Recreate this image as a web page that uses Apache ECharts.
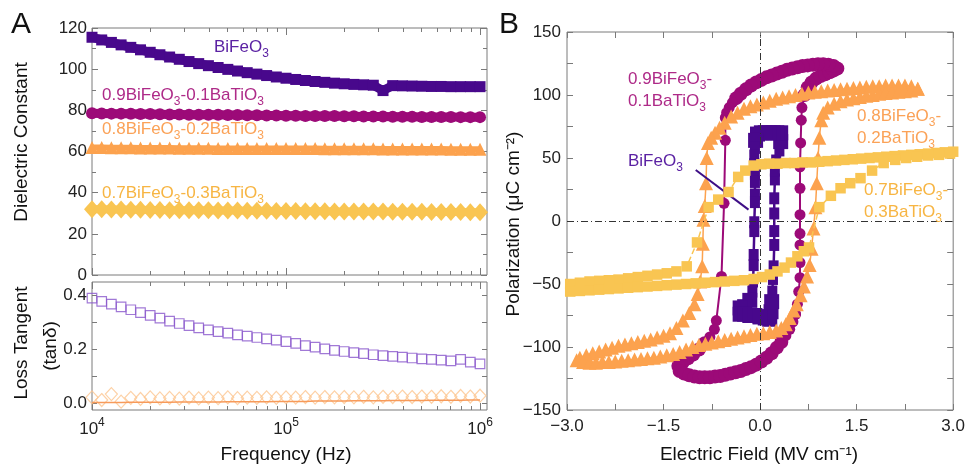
<!DOCTYPE html>
<html>
<head>
<meta charset="utf-8">
<script src="https://cdn.jsdelivr.net/npm/echarts@6/dist/echarts.min.js"></script>
<style>
  html, body { margin: 0; padding: 0; background: #fff; }
  #chart { width: 968px; height: 468px; }
</style>
</head>
<body>
<div id="chart"></div>
<script>
const FONT = '"Liberation Sans", Arial, Helvetica, sans-serif'

// ---- 面板 A：介电常数 / 损耗 vs 频率 ----
const freqHz = [10000, 11220, 12589, 14125, 15849, 17783, 19953, 22387, 25119, 28184,
  31623, 35481, 39811, 44668, 50119, 56234, 63096, 70795, 79433, 89125,
  100000, 112202, 125893, 141254, 158489, 177828, 199526, 223872, 251189, 281838,
  316228, 354813, 398107, 446684, 501187, 562341, 630957, 707946, 794328, 891251, 1000000]

const epsBFO = [115.5, 114.2, 113.0, 111.8, 110.6, 109.4, 108.2, 107.0, 105.9, 104.8,
  103.7, 102.7, 101.7, 100.8, 99.9, 99.1, 98.3, 97.6, 96.9, 96.2,
  95.6, 95.0, 94.5, 94.0, 93.6, 93.2, 92.9, 92.6, 92.4, 92.2,
  89.6, 92.0, 91.9, 91.8, 91.7, 91.6, 91.6, 91.5, 91.5, 91.5, 91.5]
const eps09 = [78.6, 78.5, 78.4, 78.4, 78.3, 78.2, 78.2, 78.1, 78.0, 78.0,
  77.9, 77.9, 77.8, 77.8, 77.7, 77.7, 77.6, 77.6, 77.5, 77.5,
  77.4, 77.4, 77.3, 77.3, 77.2, 77.2, 77.1, 77.1, 77.0, 77.0,
  77.0, 76.9, 76.9, 76.9, 76.8, 76.8, 76.8, 76.8, 76.7, 76.7, 76.7]
const eps08 = [61.9, 61.9, 61.8, 61.8, 61.8, 61.7, 61.7, 61.7, 61.7, 61.6,
  61.6, 61.6, 61.6, 61.5, 61.5, 61.5, 61.5, 61.5, 61.4, 61.4,
  61.4, 61.4, 61.4, 61.4, 61.3, 61.3, 61.3, 61.3, 61.3, 61.3,
  61.2, 61.2, 61.2, 61.2, 61.2, 61.2, 61.2, 61.1, 61.1, 61.1, 61.1]
const eps07 = [31.9, 31.9, 31.8, 31.8, 31.7, 31.7, 31.6, 31.6, 31.5, 31.5,
  31.4, 31.4, 31.4, 31.3, 31.3, 31.3, 31.2, 31.2, 31.2, 31.1,
  31.1, 31.1, 31.0, 31.0, 31.0, 30.9, 30.9, 30.9, 30.8, 30.8,
  30.8, 30.7, 30.7, 30.7, 30.7, 30.6, 30.6, 30.6, 30.6, 30.5, 30.5]

const lossBFO = [0.390, 0.378, 0.368, 0.358, 0.347, 0.336, 0.326, 0.316, 0.305, 0.296,
  0.288, 0.280, 0.272, 0.266, 0.260, 0.254, 0.249, 0.244, 0.239, 0.234,
  0.229, 0.222, 0.214, 0.208, 0.202, 0.196, 0.192, 0.188, 0.184, 0.180,
  0.177, 0.174, 0.171, 0.168, 0.165, 0.163, 0.160, 0.157, 0.163, 0.153, 0.146]
const loss07 = [0.022, 0.012, 0.034, 0.006, 0.020, 0.016, 0.022, 0.018, 0.020, 0.017,
  0.021, 0.018, 0.021, 0.019, 0.022, 0.019, 0.021, 0.020, 0.022, 0.020,
  0.022, 0.021, 0.023, 0.021, 0.023, 0.022, 0.023, 0.022, 0.024, 0.022,
  0.024, 0.023, 0.025, 0.023, 0.025, 0.024, 0.026, 0.024, 0.027, 0.025, 0.028]
const loss08 = [0.003, 0.003, 0.003, 0.003, 0.004, 0.004, 0.004, 0.004, 0.004, 0.005,
  0.005, 0.005, 0.005, 0.005, 0.006, 0.006, 0.006, 0.006, 0.006, 0.007,
  0.007, 0.007, 0.007, 0.008, 0.008, 0.008, 0.008, 0.009, 0.009, 0.009,
  0.009, 0.010, 0.010, 0.010, 0.010, 0.011, 0.011, 0.011, 0.011, 0.012, 0.012]

// ---- 面板 B：电滞回线 [E (MV/cm), P (uC/cm2)] ----
const loopBFO = [[0.0, -76], [0.08, -77], [0.15, -78], [0.17, -72], [0.18, -64], [0.19, -56], [0.2, -46],
  [0.21, -36], [0.22, -19], [0.22, -8], [0.22, 6], [0.22, 18], [0.23, 33], [0.23, 40], [0.25, 48],
  [0.3, 56], [0.32, 63], [0.32, 70], [0.26, 70], [0.2, 70], [0.14, 70], [0.08, 70], [0.02, 70],
  [-0.04, 69], [-0.07, 64], [-0.08, 58], [-0.09, 52], [-0.09, 45], [-0.08, 37], [-0.08, 31],
  [-0.08, 21], [-0.08, 15], [-0.09, -1], [-0.09, -8], [-0.1, -27], [-0.1, -35], [-0.11, -48],
  [-0.12, -56], [-0.16, -63], [-0.24, -68], [-0.31, -69], [-0.31, -74], [-0.24, -74], [-0.16, -75],
  [-0.08, -75], [0.0, -76]]

const loop09 = [[0.55, -74], [0.58, -66], [0.6, -56], [0.62, -45], [0.62, -33], [0.62, -19], [0.62, -10],
  [0.62, 5], [0.62, 26], [0.62, 43], [0.63, 62], [0.64, 80], [0.65, 90], [0.69, 100], [0.74, 106],
  [0.80, 110], [0.87, 113], [0.94, 115], [1.01, 116.5], [1.08, 118], [1.14, 119.5], [1.20, 121],
  [1.14, 123], [1.06, 124], [0.98, 124.5], [0.90, 124.5], [0.82, 124], [0.74, 123.5], [0.66, 123],
  [0.58, 122], [0.50, 121], [0.42, 120], [0.34, 118.5], [0.26, 117], [0.18, 115.5], [0.10, 114],
  [0.02, 112], [-0.06, 110], [-0.14, 107.5], [-0.22, 104.5], [-0.30, 101], [-0.37, 97.5],
  [-0.43, 94], [-0.48, 90], [-0.52, 86], [-0.54, 82], [-0.54, 64], [-0.56, 14], [-0.6, -44],
  [-0.68, -79], [-0.71, -86], [-0.78, -92], [-0.86, -97], [-0.95, -102], [-1.04, -106],
  [-1.12, -109], [-1.2, -112], [-1.27, -115], [-1.25, -119], [-1.18, -121], [-1.1, -122.5],
  [-1.02, -123.5], [-0.94, -124], [-0.86, -124], [-0.78, -124], [-0.70, -123.5], [-0.62, -123],
  [-0.54, -122], [-0.46, -121], [-0.38, -120], [-0.30, -119], [-0.22, -117.5], [-0.14, -116],
  [-0.06, -114], [0.02, -111.5], [0.10, -108.5], [0.18, -105], [0.26, -100.5], [0.33, -96],
  [0.40, -91], [0.46, -86], [0.51, -80], [0.55, -74]]

const loop08 = [[2.45, 105], [2.35, 107], [2.25, 107.5], [2.15, 107.5], [2.05, 107.5], [1.95, 107.5],
  [1.85, 107], [1.75, 107], [1.65, 106.5], [1.55, 106], [1.45, 105.5], [1.35, 105], [1.25, 104.5],
  [1.15, 104], [1.05, 103.5], [0.95, 103], [0.85, 102.5], [0.75, 102], [0.65, 101], [0.55, 100],
  [0.45, 99], [0.35, 98], [0.25, 97], [0.15, 95.5], [0.05, 94], [-0.05, 92.5], [-0.15, 91],
  [-0.25, 89], [-0.35, 86], [-0.45, 83], [-0.55, 78], [-0.63, 74], [-0.70, 70], [-0.76, 66],
  [-0.81, 62], [-0.83, 50], [-0.84, 30], [-0.86, 12], [-0.88, 1], [-0.89, -18], [-0.9, -36],
  [-0.93, -48], [-0.97, -58], [-1.02, -66], [-1.1, -73], [-1.2, -79], [-1.3, -85], [-1.4, -89],
  [-1.5, -91], [-1.6, -92.5], [-1.7, -94], [-1.8, -95], [-1.9, -96], [-2.0, -97], [-2.1, -98],
  [-2.2, -99], [-2.3, -100.5], [-2.4, -102], [-2.5, -103.5], [-2.6, -105], [-2.7, -106.5],
  [-2.8, -108.5], [-2.85, -110.5], [-2.75, -112], [-2.65, -112.5], [-2.55, -112.5], [-2.45, -112],
  [-2.35, -112], [-2.25, -111.5], [-2.15, -111], [-2.05, -110.5], [-1.95, -110], [-1.85, -109.5],
  [-1.75, -109], [-1.65, -108.5], [-1.55, -107.5], [-1.45, -106.5], [-1.35, -105.5], [-1.25, -104],
  [-1.15, -102], [-1.05, -100], [-0.95, -98.5], [-0.85, -97.5], [-0.75, -96.5], [-0.65, -95.5],
  [-0.55, -94.5], [-0.45, -93.5], [-0.35, -92.5], [-0.25, -91.5], [-0.15, -90.5], [-0.05, -89.5],
  [0.05, -89], [0.15, -88], [0.25, -87], [0.33, -85], [0.40, -82], [0.46, -77], [0.52, -71],
  [0.57, -66], [0.63, -59], [0.68, -52], [0.73, -44], [0.77, -35], [0.80, -22], [0.83, -6],
  [0.86, 11], [0.88, 30], [0.90, 50], [0.92, 66], [0.95, 80], [0.98, 86], [1.05, 90], [1.15, 93],
  [1.25, 95], [1.35, 96.5], [1.45, 97.5], [1.55, 98.5], [1.65, 99.5], [1.75, 100], [1.85, 101],
  [1.95, 101.5], [2.05, 102], [2.15, 102.5], [2.25, 103], [2.35, 103.5], [2.45, 105]]

const loop07 = [[3.0, 55], [2.87, 54.5], [2.74, 54], [2.61, 53.5], [2.48, 53], [2.35, 52.5], [2.22, 52],
  [2.09, 51.5], [1.96, 51], [1.83, 50.5], [1.70, 50], [1.57, 49.5], [1.44, 49], [1.31, 48.5],
  [1.18, 48], [1.05, 47.5], [0.92, 47], [0.79, 46.5], [0.66, 46.5], [0.53, 46], [0.40, 46],
  [0.27, 45.5], [0.14, 45.5], [0.02, 45], [-0.1, 44], [-0.23, 40], [-0.34, 35], [-0.49, 23],
  [-0.65, 17], [-0.8, 11], [-0.98, -17], [-1.14, -36], [-1.3, -40], [-1.45, -41.5], [-1.6, -42.5],
  [-1.75, -43.5], [-1.9, -44.5], [-2.05, -45.5], [-2.2, -46.5], [-2.35, -47], [-2.5, -47.5],
  [-2.65, -48], [-2.8, -49], [-2.95, -50], [-2.95, -56], [-2.8, -55.5], [-2.65, -55], [-2.5, -54.5],
  [-2.35, -54], [-2.2, -53.5], [-2.05, -53], [-1.9, -52.5], [-1.75, -52], [-1.6, -51.5],
  [-1.45, -51], [-1.3, -50.5], [-1.15, -50], [-1.0, -49.5], [-0.85, -49], [-0.7, -48.5],
  [-0.55, -48], [-0.4, -47.5], [-0.25, -47], [-0.1, -46], [0.03, -44.5], [0.15, -42.5],
  [0.27, -40], [0.38, -37], [0.48, -33], [0.58, -28], [0.68, -24], [0.76, -21], [0.92, 11],
  [1.1, 20], [1.25, 26], [1.4, 30], [1.56, 34], [1.74, 40], [1.92, 46], [2.1, 48.5], [2.27, 50],
  [2.44, 51], [2.61, 52], [2.78, 52.5], [2.95, 53.5]]

// 颜色
const C_BFO = '#48088C'
const C_09 = '#9C0A78'
const C_08 = '#FCA24E'
const C_07 = '#F9C552'
const AXIS_C = '#7a7a7a'

// 频率轴用 log10 值
const logF = freqHz.map(f => Math.log10(f))
const withF = ys => ys.map((y, i) => [logF[i], y])

const majorF = [4, 5, 6]
const minorF = []
;[4, 5].forEach(d => { for (let k = 2; k <= 9; k++) minorF.push(d + Math.log10(k)) })

const fmtMinus = v => String(v).replace('-', '\u2212')

const noLine = { show: false, onZero: false }

// 频率轴（主/次刻度分开画）
const freqAxis = (grid, pos, ticks, len, withLabel) => ({
  type: 'value', gridIndex: grid, position: pos, min: 4, max: 6.036,
  axisLine: noLine, splitLine: { show: false },
  axisTick: { show: true, inside: true, length: len, customValues: ticks, lineStyle: { color: AXIS_C } },
  axisLabel: withLabel ? {
    customValues: majorF, margin: 7,
    formatter: v => '{b|10}{p|' + Math.round(v) + '}',
    rich: {
      b: { fontSize: 17, fontFamily: FONT, color: '#222', verticalAlign: 'bottom' },
      p: { fontSize: 12, fontFamily: FONT, color: '#222', verticalAlign: 'bottom', padding: [0, 0, 9, 0] }
    }
  } : { show: false }
})

const labelStyle = { fontSize: 17, fontFamily: FONT, color: '#222' }

// 化学式文字（带下标）
const chemRich = color => ({
  n: { fontSize: 17, fontFamily: FONT, fill: color, verticalAlign: 'bottom', padding: [0, 0, 4, 0] },
  s: { fontSize: 12, fontFamily: FONT, fill: color, verticalAlign: 'bottom' }
})
const chem = (text, x, y, color) => ({
  type: 'text', x: x, y: y, z: 100,
  style: {
    text: text, rich: chemRich(color), fill: color,
    align: 'left', textAlign: 'left', verticalAlign: 'middle', textVerticalAlign: 'middle'
  }
})
const plain = (text, x, y, size, rot) => ({
  type: 'text', x: x, y: y, rotation: rot || 0, z: 100,
  style: {
    text: text, fill: '#111', fontSize: size, fontFamily: FONT,
    align: 'center', textAlign: 'center', verticalAlign: 'middle', textVerticalAlign: 'middle'
  }
})

const C_LBL_BFO = '#5B22A3'
const C_LBL_09 = '#AE2A88'
const C_LBL_08 = '#FBA257'
const C_LBL_07 = '#F7B543'

const option = {
  animation: false,
  backgroundColor: '#fff',
  grid: [
    { left: 92, top: 28, width: 395, height: 247, show: true, borderColor: AXIS_C, borderWidth: 1 },
    { left: 92, top: 282, width: 395, height: 128, show: true, borderColor: AXIS_C, borderWidth: 1 },
    { left: 567, top: 32, width: 390, height: 378, show: true, borderColor: AXIS_C, borderWidth: 1 }
  ],
  xAxis: [
    freqAxis(0, 'bottom', majorF, 7, false),
    freqAxis(0, 'bottom', minorF, 4, false),
    freqAxis(0, 'top', majorF, 7, false),
    freqAxis(0, 'top', minorF, 4, false),
    freqAxis(1, 'bottom', majorF, 7, true),
    freqAxis(1, 'bottom', minorF, 4, false),
    freqAxis(1, 'top', majorF, 7, false),
    freqAxis(1, 'top', minorF, 4, false),
    {
      type: 'value', gridIndex: 2, position: 'bottom', min: -3, max: 3, interval: 0.75,
      axisLine: noLine, splitLine: { show: false },
      axisTick: { inside: true, length: 6, lineStyle: { color: AXIS_C } },
      axisLabel: Object.assign({ margin: 8, formatter: v => Math.abs(v % 1.5) < 1e-9 ? fmtMinus(v.toFixed(1)) : '' }, labelStyle)
    },
    {
      type: 'value', gridIndex: 2, position: 'top', min: -3, max: 3, interval: 0.75,
      axisLine: noLine, splitLine: { show: false },
      axisTick: { inside: true, length: 6, lineStyle: { color: AXIS_C } },
      axisLabel: { show: false }
    }
  ],
  yAxis: [
    {
      type: 'value', gridIndex: 0, position: 'left', min: 0, max: 120, interval: 20,
      axisLine: noLine, splitLine: { show: false },
      axisTick: { inside: true, length: 6, lineStyle: { color: AXIS_C } },
      minorTick: { show: true, splitNumber: 2, length: 4, lineStyle: { color: AXIS_C } },
      axisLabel: Object.assign({ margin: 5 }, labelStyle)
    },
    {
      type: 'value', gridIndex: 0, position: 'right', min: 0, max: 120, interval: 20,
      axisLine: noLine, splitLine: { show: false },
      axisTick: { inside: true, length: 6, lineStyle: { color: AXIS_C } },
      minorTick: { show: true, splitNumber: 2, length: 4, lineStyle: { color: AXIS_C } },
      axisLabel: { show: false }
    },
    {
      type: 'value', gridIndex: 1, position: 'left', min: -0.025, max: 0.45,
      axisLine: noLine, splitLine: { show: false },
      axisTick: { inside: true, length: 5, customValues: [0, 0.1, 0.2, 0.3, 0.4], lineStyle: { color: AXIS_C } },
      axisLabel: Object.assign({ margin: 5, customValues: [0, 0.2, 0.4], formatter: v => v.toFixed(1) }, labelStyle)
    },
    {
      type: 'value', gridIndex: 1, position: 'right', min: -0.025, max: 0.45,
      axisLine: noLine, splitLine: { show: false },
      axisTick: { inside: true, length: 5, customValues: [0, 0.1, 0.2, 0.3, 0.4], lineStyle: { color: AXIS_C } },
      axisLabel: { show: false }
    },
    {
      type: 'value', gridIndex: 2, position: 'left', min: -150, max: 150, interval: 25,
      axisLine: noLine, splitLine: { show: false },
      axisTick: { inside: true, length: 6, lineStyle: { color: AXIS_C } },
      axisLabel: Object.assign({ margin: 6, formatter: v => v % 50 === 0 ? fmtMinus(v) : '' }, labelStyle)
    },
    {
      type: 'value', gridIndex: 2, position: 'right', min: -150, max: 150, interval: 25,
      axisLine: noLine, splitLine: { show: false },
      axisTick: { inside: true, length: 6, lineStyle: { color: AXIS_C } },
      axisLabel: { show: false }
    }
  ],
  series: [
    // 介电常数
    { type: 'line', xAxisIndex: 0, yAxisIndex: 0, data: withF(epsBFO), symbol: 'rect', symbolSize: 11,
      itemStyle: { color: C_BFO }, lineStyle: { color: C_BFO, width: 9 } },
    { type: 'line', xAxisIndex: 0, yAxisIndex: 0, data: withF(eps09), symbol: 'circle', symbolSize: 12,
      itemStyle: { color: C_09 }, lineStyle: { color: C_09, width: 9 } },
    { type: 'line', xAxisIndex: 0, yAxisIndex: 0, data: withF(eps08), symbol: 'triangle', symbolSize: 13,
      itemStyle: { color: C_08 }, lineStyle: { color: C_08, width: 6 } },
    { type: 'line', xAxisIndex: 0, yAxisIndex: 0, data: withF(eps07), symbol: 'diamond', symbolSize: [16, 18],
      itemStyle: { color: C_07 }, lineStyle: { color: C_07, width: 8 } },
    // 损耗
    { type: 'line', xAxisIndex: 4, yAxisIndex: 2, data: withF(loss08), showSymbol: false,
      lineStyle: { color: '#F79A5A', width: 1.5 } },
    { type: 'scatter', xAxisIndex: 4, yAxisIndex: 2, data: withF(loss07), symbol: 'diamond', symbolSize: [12, 13],
      itemStyle: { color: 'rgba(255,255,255,0)', borderColor: '#FCC690', borderWidth: 1.2 } },
    { type: 'scatter', xAxisIndex: 4, yAxisIndex: 2, data: withF(lossBFO), symbol: 'rect', symbolSize: 9.5,
      itemStyle: { color: 'rgba(255,255,255,0)', borderColor: '#8A58CC', borderWidth: 1.2 } },
    // 电滞回线
    { type: 'line', xAxisIndex: 8, yAxisIndex: 4, data: loopBFO, symbol: 'rect', z: 2,
      symbolSize: v => Math.abs(v[1]) > 58 ? 15 : [10, 12],
      itemStyle: { color: C_BFO }, lineStyle: { color: C_BFO, width: 2.5 },
      markLine: {
        silent: true, symbol: ['none', 'none'], label: { show: false },
        lineStyle: { color: '#3E0E86', width: 2, type: 'solid' },
        data: [[{ coord: [-1.0, 40.5] }, { coord: [-0.18, 9] }]]
      } },
    { type: 'line', xAxisIndex: 8, yAxisIndex: 4, data: loop09, symbol: 'circle', z: 3,
      symbolSize: v => Math.abs(v[1]) > 95 ? 14 : 11,
      itemStyle: { color: C_09 }, lineStyle: { color: C_09, width: 2 } },
    { type: 'line', xAxisIndex: 8, yAxisIndex: 4, data: loop08, symbol: 'triangle', symbolSize: 14, z: 4,
      itemStyle: { color: C_08 }, lineStyle: { color: C_08, width: 1.5 } },
    { type: 'line', xAxisIndex: 8, yAxisIndex: 4, data: loop07, symbol: 'rect', symbolSize: 10.5, z: 5,
      itemStyle: { color: C_07 }, lineStyle: { color: C_07, width: 1.5, type: 'dashed' },
      markLine: {
        silent: true, symbol: ['none', 'none'], label: { show: false },
        lineStyle: { color: '#333', width: 1, type: [7, 3, 1, 3] },
        data: [{ xAxis: 0 }, { yAxis: 0 }]
      } }
  ],
  graphic: [
    plain('A', 21, 25, 30),
    plain('B', 509, 25, 30),
    plain('Dielectric Constant', 22, 142, 19, Math.PI / 2),
    plain('Loss Tangent', 22, 343, 19, Math.PI / 2),
    plain('(tan\u03b4)', 51, 346, 19, Math.PI / 2),
    plain('Frequency (Hz)', 286, 455, 19),
    plain('Polarization (\u03bcC cm\u207b\u00b2)', 514, 224, 19, Math.PI / 2),
    plain('Electric Field (MV cm\u207b\u00b9)', 759, 455, 19),
    chem('{n|BiFeO}{s|3}', 214, 49, C_LBL_BFO),
    chem('{n|0.9BiFeO}{s|3}{n|-0.1BaTiO}{s|3}', 102, 97, C_LBL_09),
    chem('{n|0.8BiFeO}{s|3}{n|-0.2BaTiO}{s|3}', 102, 131, C_LBL_08),
    chem('{n|0.7BiFeO}{s|3}{n|-0.3BaTiO}{s|3}', 102, 195, C_LBL_07),
    chem('{n|0.9BiFeO}{s|3}{n|-}', 628, 81, C_LBL_09),
    chem('{n|0.1BaTiO}{s|3}', 628, 103, C_LBL_09),
    chem('{n|0.8BiFeO}{s|3}{n|-}', 857, 118, C_LBL_08),
    chem('{n|0.2BaTiO}{s|3}', 857, 140, C_LBL_08),
    chem('{n|0.7BiFeO}{s|3}{n|-}', 864, 192, C_LBL_07),
    chem('{n|0.3BaTiO}{s|3}', 864, 214, C_LBL_07),
    chem('{n|BiFeO}{s|3}', 628, 163, C_LBL_BFO)
  ]
}

const chart = echarts.init(document.getElementById('chart'))
chart.setOption(option)
</script>
</body>
</html>
